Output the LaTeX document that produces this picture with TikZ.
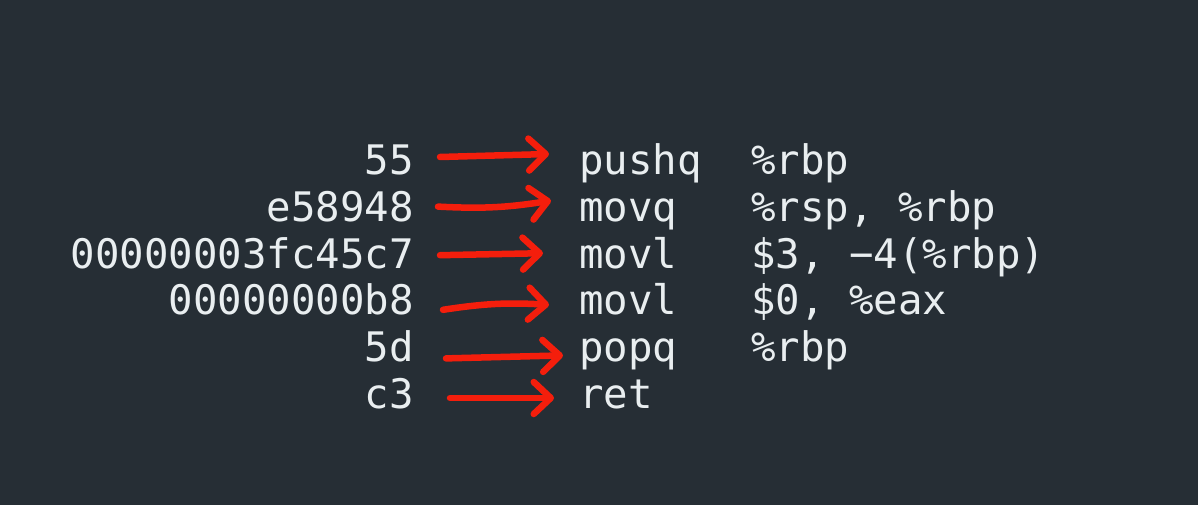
\documentclass[tikz,border=0pt]{standalone}
\usepackage{fontspec}
\setmonofont{DejaVu Sans Mono}
\usetikzlibrary{arrows.meta}

\definecolor{bgdark}{HTML}{262E35}
\definecolor{asmtext}{HTML}{E9EEF0}
\definecolor{penred}{HTML}{F41E0C}

\tikzset{
    asm/.style={text=asmtext, inner sep=0pt, font=\ttfamily\fontsize{40.7}{48}\selectfont},
    scribble/.style={penred, line width=6.5pt, line cap=round, -{Straight Barb[length=17pt,width=32pt,round]}}
}

\begin{document}
\begin{tikzpicture}[x=1pt,y=-1pt]
        \fill[bgdark] (0,0) rectangle (1198,505);
        % bytes, mnemonics and the pen strokes between them
        \foreach \i/\hex/\op/\sx/\sy/\ex/\ey/\bend in {
            1/55/pushq/26/-18/-30/-21/0,
            2/e58948/movq/24/-15/-28/-21/-6,
            3/00000003fc45c7/movl/26/-13/-36/-15/0,
            4/00000000b8/movl/29/-5/-30/-10/6,
            5/5d/popq/32/-3/-16/-6/0,
            6/c3/ret/36/-10/-25/-10/0}{
            \node[asm, anchor=base east] (hex\i) at (414,{175+46.6*(\i-1)}) {\hex};
            \node[asm, anchor=base west] (op\i) at (579,{175+46.6*(\i-1)}) {\op};
            \draw[scribble] ([shift={(\sx,\sy)}]hex\i.base east) to[bend left=\bend] ([shift={(\ex,\ey)}]op\i.base west);
        }
        % operands
        \foreach \i/\arg in {1/{\%rbp}, 2/{\%rsp, \%rbp}, 3/{\$3, −4(\%rbp)}, 4/{\$0, \%eax}, 5/{\%rbp}}{
            \node[asm, anchor=base west] (arg\i) at (751,{175+46.6*(\i-1)}) {\arg};
        }
\end{tikzpicture}
\end{document}
